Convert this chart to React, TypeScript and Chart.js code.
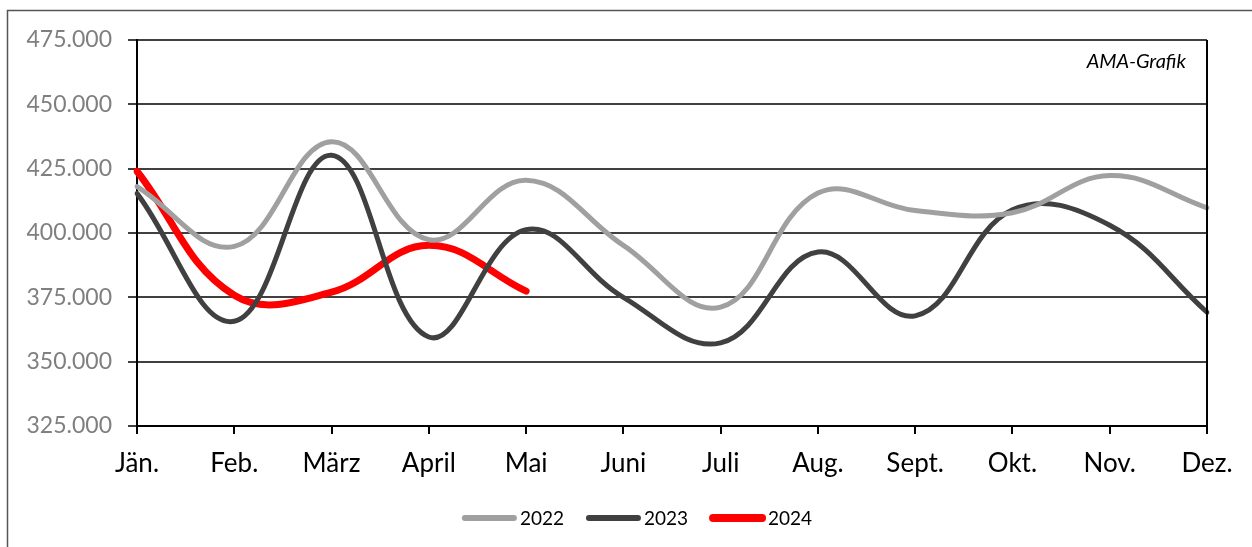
import React, { useEffect, useRef } from "react";
import { Chart, registerables } from "chart.js";

Chart.register(...registerables);

const months = ["Jän.", "Feb.", "März", "April", "Mai", "Juni", "Juli", "Aug.", "Sept.", "Okt.", "Nov.", "Dez."];
const values2022 = [418000, 394800, 435500, 397400, 420500, 395200, 371200, 415500, 408700, 407900, 422300, 409800];
const values2023 = [415400, 365700, 430200, 359600, 401300, 375000, 357300, 392600, 367800, 409000, 403000, 369200];
const values2024 = [424000, 375800, 377000, 395200, 377400];
const seriesLabels = ["2022", "2023", "2024"];
const seriesColors = ["#a0a0a0", "#404040", "#ff0000"];
const seriesWidths = [5, 5, 7];
const yMin = 325000;
const yMax = 475000;
const yStep = 25000;
const watermark = "AMA-Grafik";

const FONT = "Lato, 'Open Sans', sans-serif";

const decorPlugin = {
  id: "decor",
  beforeDraw(chart: any) {
    const { ctx } = chart;
    ctx.save();
    ctx.strokeStyle = "#555555";
    ctx.lineWidth = 1.5;
    ctx.beginPath();
    ctx.moveTo(7.5, chart.height + 5);
    ctx.lineTo(7.5, 10.5);
    ctx.lineTo(chart.width + 5, 10.5);
    ctx.stroke();
    ctx.restore();
  },
  afterDraw(chart: any) {
    const { ctx, chartArea } = chart;
    ctx.save();
    // right border of plot
    ctx.strokeStyle = "#000000";
    ctx.lineWidth = 2;
    ctx.beginPath();
    ctx.moveTo(chartArea.right, chartArea.top);
    ctx.lineTo(chartArea.right, chartArea.bottom + 8);
    ctx.stroke();
    // watermark
    ctx.fillStyle = "#000000";
    ctx.font = `italic 20px ${FONT}`;
    ctx.textAlign = "right";
    ctx.textBaseline = "alphabetic";
    ctx.fillText(watermark, chartArea.right - 21, 68);
    // legend
    const ds = chart.data.datasets;
    ctx.font = `19px ${FONT}`;
    const lineLen = 52;
    const gapText = 6;
    const itemGap = 22;
    const widths = ds.map((d: any) => lineLen + gapText + ctx.measureText(d.label).width);
    const total = widths.reduce((a: number, b: number) => a + b, 0) + itemGap * (ds.length - 1);
    let x = 637 - total / 2;
    const y = 518;
    ds.forEach((d: any, i: number) => {
      ctx.strokeStyle = d.borderColor;
      ctx.lineWidth = d.borderWidth + 1;
      ctx.lineCap = "round";
      ctx.beginPath();
      ctx.moveTo(x + 3, y);
      ctx.lineTo(x + lineLen, y);
      ctx.stroke();
      ctx.fillStyle = "#000000";
      ctx.textAlign = "left";
      ctx.textBaseline = "middle";
      ctx.fillText(d.label, x + lineLen + gapText, y + 1);
      x += widths[i] + itemGap;
    });
    ctx.restore();
  },
};

export default function App() {
  const ref = useRef<HTMLCanvasElement | null>(null);
  useEffect(() => {
    if (!ref.current) return;
    const allSeries = [values2022, values2023, values2024];
    const chart = new Chart(ref.current, {
      type: "line",
      data: {
        labels: months,
        datasets: allSeries.map((vals, i) => ({
          label: seriesLabels[i],
          data: vals,
          borderColor: seriesColors[i],
          backgroundColor: seriesColors[i],
          borderWidth: seriesWidths[i],
          pointRadius: 0,
          pointHoverRadius: 0,
          tension: 0.4,
          borderCapStyle: "round" as const,
          fill: false,
        })),
      },
      options: {
        responsive: false,
        animation: false,
        devicePixelRatio: 1,
        layout: { padding: { left: 0, right: 45, top: 40, bottom: 0 } },
        plugins: {
          legend: { display: false },
          tooltip: { enabled: false },
          title: { display: false },
        },
        scales: {
          x: {
            offset: false,
            grid: {
              display: true,
              drawOnChartArea: false,
              drawTicks: true,
              tickLength: 8,
              color: "#000000",
              lineWidth: 2,
            },
            border: { display: true, color: "#000000", width: 2 },
            ticks: {
              color: "#000000",
              font: { family: FONT, size: 26 },
              padding: 14,
              maxRotation: 0,
              autoSkip: false,
            },
            afterFit: (s: any) => {
              s.height = 121;
            },
          },
          y: {
            min: yMin,
            max: yMax,
            grid: {
              color: "#404040",
              lineWidth: 2,
              tickLength: 9,
              drawTicks: true,
            },
            border: { display: true, color: "#000000", width: 2 },
            ticks: {
              stepSize: yStep,
              color: "#7f7f7f",
              font: { family: FONT, size: 23 },
              padding: 16,
              callback: (v: any) => `${Math.round(Number(v) / 1000)}.000`,
            },
            afterFit: (s: any) => {
              s.width = 137;
            },
          },
        },
      },
      plugins: [decorPlugin],
    });
    return () => chart.destroy();
  }, []);
  return (
    <div style={{ position: "absolute", left: 0, top: 0, width: 1252, height: 547, background: "#fff", overflow: "hidden" }}>
      <canvas ref={ref} width={1252} height={547} style={{ display: "block" }} />
    </div>
  );
}
